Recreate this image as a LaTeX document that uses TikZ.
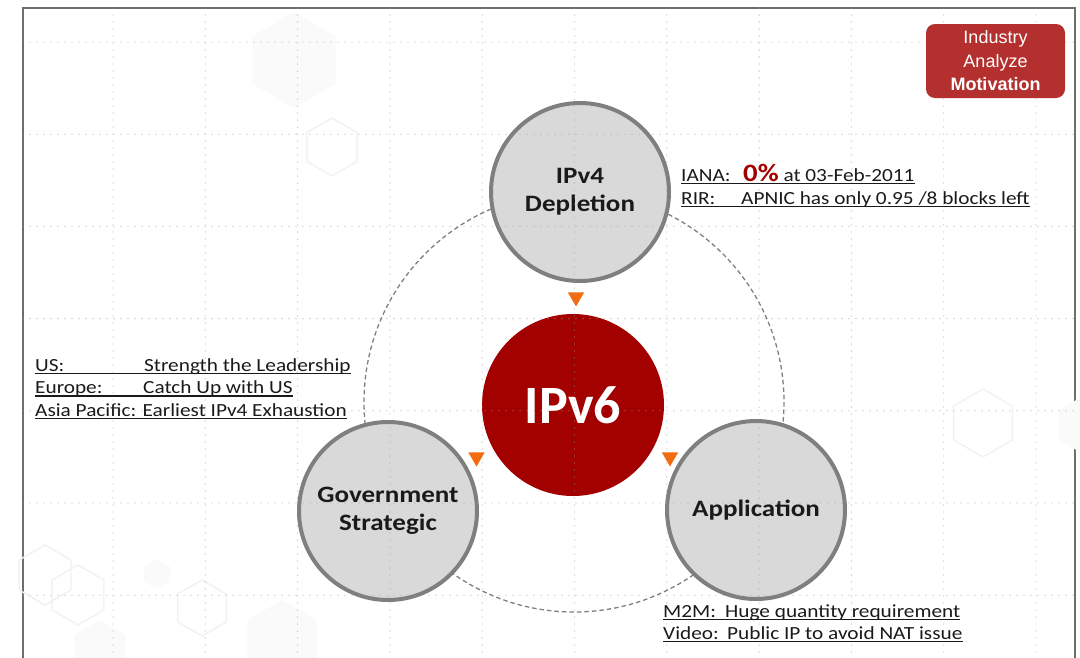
\documentclass[tikz,border=0pt]{standalone}
\usepackage{fontspec}
\setmainfont{Carlito}
\newfontfamily\wide[FakeStretch=1.15]{Carlito}
\newfontfamily\boxfont{Liberation Sans}
\usetikzlibrary{shapes.geometric}
\definecolor{ink}{HTML}{1A1A1A}
\definecolor{ipred}{HTML}{A30000}
\definecolor{boxred}{HTML}{B3302E}
\definecolor{circfill}{HTML}{D9D9D9}
\definecolor{circline}{HTML}{7F7F7F}
\definecolor{tipor}{HTML}{F26B0F}
\definecolor{framegray}{HTML}{6E6E6E}

\begin{document}
\begin{tikzpicture}[x=1pt,y=-1pt,
  bubble/.style={circle,draw=circline,line width=4pt,fill=circfill,minimum size=178pt,inner sep=0pt,
    align=center,text=ink,font=\wide\bfseries\fontsize{23.5}{28}\selectfont},
  core/.style={circle,fill=ipred,minimum size=182pt,inner sep=0pt,text=white,font=\bfseries\fontsize{54}{60}\selectfont},
  pointer/.style={regular polygon,regular polygon sides=3,shape border rotate=180,minimum size=19pt,inner sep=0pt,fill=tipor},
  note/.style={anchor=base west,inner sep=0pt,text=ink,font=\wide\fontsize{18.5}{22}\selectfont},
  uline/.style={draw=ink,line width=1.1pt},
  tagbox/.style={rectangle,rounded corners=9pt,fill=boxred,text=white,align=center,minimum width=139pt,minimum height=74pt,
    inner sep=0pt,font=\boxfont\fontsize{18}{23.5}\selectfont},
  ring/.style={draw=gray,line width=1.3pt,dash pattern=on 4.5pt off 3pt},
  gridline/.style={draw=gray!75,line width=1.3pt,dash pattern=on 0pt off 7pt,line cap=round,opacity=0.7},
  hexfill/.style={fill=gray!4},
  hexline/.style={draw=gray!10,line width=1.5pt}]
  \useasboundingbox (0,0) rectangle (1080,657);
  \clip (0,0) rectangle (1080,657);
  \draw[framegray,line width=1.4pt] (23,8) rectangle (1075,690);
  % faint hexagons in the background
  \foreach \hx/\hy/\hr/\hs in {294/60/48/hexfill, 332/147/29/hexline, 983/423/34/hexline, 1085/425/30/hexfill,
      45/575/30/hexline, 78/595/30/hexline, 157/574/15/hexfill, 202/608/28/hexline, 100/650/30/hexfill, 282/640/40/hexfill}
    \path[\hs] (\hx,\hy) +(90:\hr) -- +(150:\hr) -- +(210:\hr) -- +(270:\hr) -- +(330:\hr) -- +(30:\hr) -- cycle;
  % dashed ring through the three topics
  \coordinate (hub) at (574,402);
  \draw[ring] (hub) circle (210);
  % topics round the core
  \node[bubble] (ipv4) at (580,192) {IPv4\\Depletion};
  \node[bubble] (gov) at (388,511) {Government\\Strategic};
  \node[bubble] (app) at (756,510) {Application};
  \node[core] (ipv6) at (573,405) {IPv6};
  \node[pointer] (tipTop) at (576,297) {};
  \node[pointer] (tipLeft) at (476.5,457) {};
  \node[pointer] (tipRight) at (670,457) {};
  % dotted grid
  \foreach \k in {0,...,10} \draw[gridline] ({113+92.3*\k},8) -- ({113+92.3*\k},657);
  \foreach \k in {0,...,6} \draw[gridline] (23,{42+92.2*\k}) -- (1075,{42+92.2*\k});
  % tag in the corner
  \node[tagbox] (tag) at (995.5,61) {Industry\\Analyze\\\textbf{Motivation}};
  % notes
  \node[note] (iana) at (681,181) {\makebox[62pt][l]{IANA:}{\bfseries\fontsize{25}{25}\selectfont\color{ipred}0\%} at 03-Feb-2011};
  \node[note] (rir) at (681,204) {\makebox[60pt][l]{RIR:}APNIC has only 0.95 /8 blocks left};
  \node[note] (us) at (35,371) {\makebox[109pt][l]{US:}Strength the Leadership};
  \node[note] (europe) at (35,393.5) {\makebox[108pt][l]{Europe:}Catch Up with US};
  \node[note] (asia) at (35,416) {Asia Pacific: Earliest IPv4 Exhaustion};
  \node[note] (m2m) at (663,617) {\makebox[62pt][l]{M2M:}Huge quantity requirement};
  \node[note] (video) at (663,639) {\makebox[64pt][l]{Video:}Public IP to avoid NAT issue};
  \foreach \n in {iana,rir,us,europe,asia,m2m,video}
    \draw[uline] ([yshift=-2.5pt]\n.base west) -- ([yshift=-2.5pt]\n.base east);
\end{tikzpicture}
\end{document}
